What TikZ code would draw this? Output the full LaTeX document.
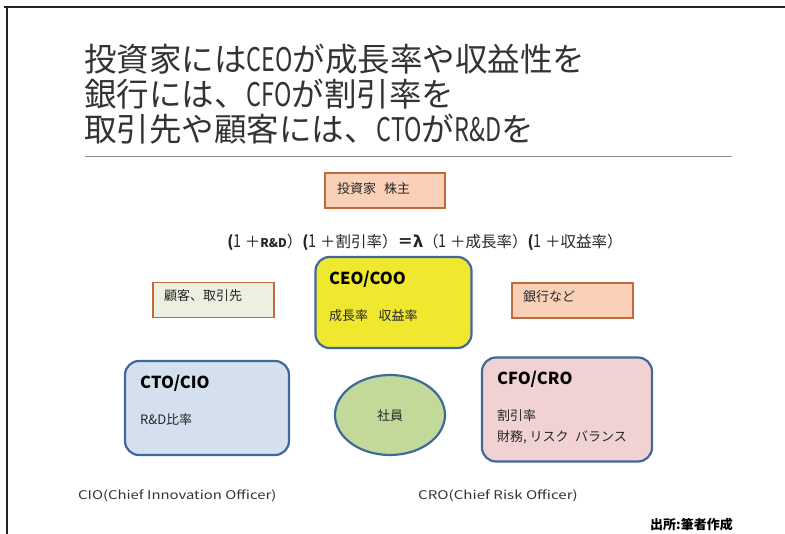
\documentclass[tikz,border=0pt]{standalone}
\usepackage{fontspec}
\setmainfont{Noto Sans CJK JP}
\usetikzlibrary{shapes.geometric}
\definecolor{framecol}{HTML}{222222}
\definecolor{titlecol}{HTML}{333333}
\definecolor{rulecol}{HTML}{8C8C8C}
\definecolor{peach}{HTML}{FBD0B8}
\definecolor{brownb}{HTML}{BF6C3A}
\definecolor{paleg}{HTML}{EBF0E0}
\definecolor{bluer}{HTML}{41689A}
\definecolor{yellowf}{HTML}{F0E82F}
\definecolor{bluef}{HTML}{D4E0ED}
\definecolor{pinkf}{HTML}{F1D2D2}
\definecolor{greenf}{HTML}{C2D99A}
\definecolor{txt}{HTML}{262626}
\newcommand{\narrow}[1]{\scalebox{0.72}[1]{#1}}
\newcommand{\one}{{\fontsize{18}{18}\selectfont\scalebox{0.8}[1]{1}}}
\newcommand{\wide}[2]{\scalebox{#1}[1]{#2}}
\tikzset{
  smallbox/.style={draw=brownb, line width=1.8pt, fill=peach, minimum height=35pt, inner sep=0pt},
  rolebox/.style={draw=bluer, line width=2.2pt, rounded corners=14pt, inner sep=0pt},
  boxtext/.style={anchor=west, inner sep=0pt, text=txt, font=\fontsize{13}{15}\selectfont},
  roletitle/.style={anchor=west, inner sep=0pt, text=black, font=\fontsize{16.5}{18}\selectfont\bfseries},
  note/.style={anchor=west, inner sep=0pt, text=titlecol, font=\fontsize{12}{14}\selectfont}
}
\begin{document}
\begin{tikzpicture}[x=1pt,y=-1pt]
\useasboundingbox (0,0) rectangle (785,534);
% frame
\draw[framecol, line width=2.4pt] (4,7) -- (785,7);
\draw[framecol, line width=2.4pt] (7,6) -- (7,534);
% title
\node[anchor=north west, align=left, inner sep=0pt, text=titlecol,
      font=\fontsize{32.5}{35}\selectfont] (title) at (84,44)
  {投資家には\narrow{CEO}が成長率や収益性を\\
   銀行には、\narrow{CFO}が割引率を\\
   取引先や顧客には、\narrow{CTO}が\narrow{R\&D}を};
\draw[rulecol, line width=1pt] (85,157) -- (732,157);
% investor box
\node[smallbox, minimum width=120pt] (inv) at (385,190.5) {};
\node[boxtext, anchor=west] (invt) at (337,189) {投資家\hspace{0.6em}株主};
% equation
\node[inner sep=0pt, text=txt, font=\fontsize{15.5}{17}\selectfont] (eq) at (425,242)
  {\textbf{(}\one\ ＋{\fontsize{12}{13}\selectfont\bfseries R\&D}）\textbf{(}\one\ ＋割引率）\textbf{＝λ}（\one\ ＋成長率）\textbf{(}\one\ ＋収益率）};
% CEO box
\node[rolebox, fill=yellowf, minimum width=156pt, minimum height=91pt] (ceo) at (393.5,302.5) {};
\node[roletitle] (ceot) at (329,279) {CEO/COO};
\node[boxtext] (ceos) at (329,316) {成長率\hspace{0.8em}収益率};
% customer box
\node[smallbox, fill=paleg, minimum width=121pt] (cust) at (213.5,300) {};
\node[boxtext] (custt) at (164,296) {顧客、取引先};
% bank box
\node[smallbox, minimum width=121pt] (bank) at (572.5,300.5) {};
\node[boxtext] (bankt) at (523,297) {銀行など};
% CTO box
\node[rolebox, fill=bluef, minimum width=164pt, minimum height=94pt] (cto) at (207,408) {};
\node[roletitle] (ctot) at (140,383) {CTO/CIO};
\node[boxtext] (ctos) at (140,420) {R\&D比率};
% employee ellipse
\node[ellipse, draw=bluer, line width=2.2pt, fill=greenf, minimum width=110pt, minimum height=80pt, inner sep=0pt] (emp) at (390,415) {};
\node[boxtext, anchor=center] (empt) at (390,416) {社員};
% CFO box
\node[rolebox, fill=pinkf, minimum width=170pt, minimum height=104pt] (cfo) at (567,409.5) {};
\node[roletitle] (cfot) at (497,379) {CFO/CRO};
\node[boxtext] (cfos1) at (497,416) {割引率};
\node[boxtext] (cfos2) at (497,437) {財務, リスク\hspace{0.5em}バランス};
% notes
\node[note] (n1) at (78,496) {\wide{1.24}{CIO(Chief Innovation Officer)}};
\node[note] (n2) at (418,496) {\wide{1.26}{CRO(Chief Risk Officer)}};
\node[note, text=black, font=\fontsize{13}{15}\selectfont\bfseries] (src) at (650,525) {出所:筆者作成};
\end{tikzpicture}
\end{document}
